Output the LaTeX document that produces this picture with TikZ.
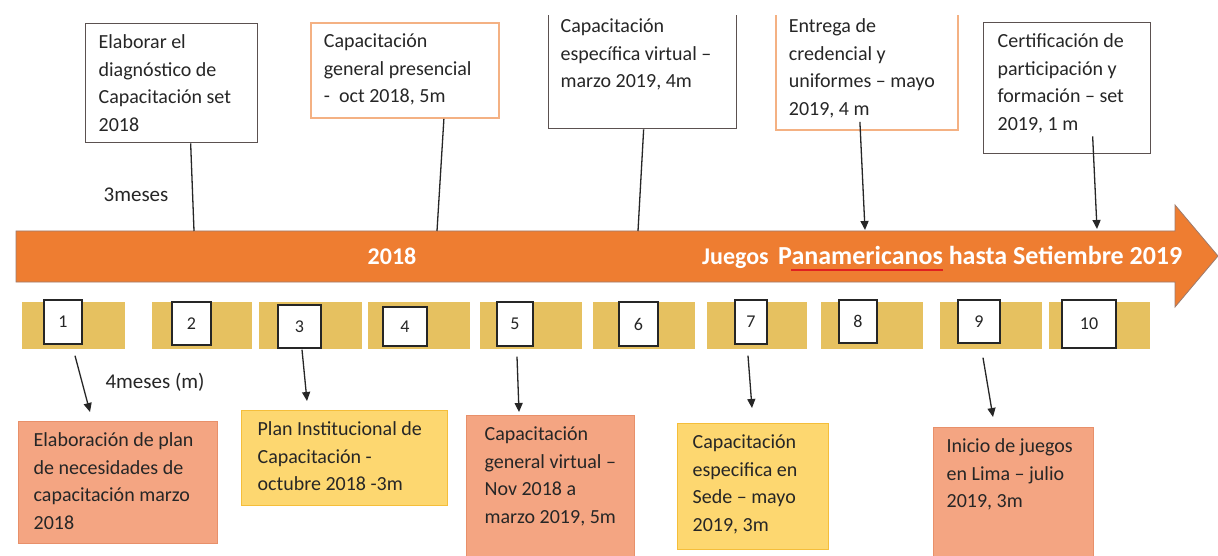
\documentclass[tikz,border=0pt]{standalone}
\usepackage{fontspec}
\setmainfont{Carlito}
\usetikzlibrary{arrows.meta}

\definecolor{ink}{HTML}{262626}
\definecolor{barorange}{HTML}{EE7D31}
\definecolor{baredge}{HTML}{9C7B6E}
\definecolor{strip}{HTML}{E6C160}
\definecolor{salmon}{HTML}{F4A582}
\definecolor{salmonedge}{HTML}{E8906A}
\definecolor{gold}{HTML}{FDD770}
\definecolor{goldedge}{HTML}{F5BE3A}
\definecolor{peach}{HTML}{F4B183}
\definecolor{darkedge}{HTML}{5B5150}
\definecolor{spell}{HTML}{E02020}

% top-aligned text block of given width and height, lines set by \\
\newcommand{\cardtext}[3]{%
  \begin{minipage}[c][#2][t]{#1}\noindent\rule{0pt}{25pt}%
  \begin{tabular}[t]{@{}l@{}}#3\end{tabular}\end{minipage}}

\tikzset{
  card/.style={anchor=north west, inner ysep=0pt, text=ink,
    font=\fontsize{20}{27.5}\selectfont, line width=1.3pt},
  darkcard/.style={card, draw=darkedge, fill=white},
  peachcard/.style={card, draw=peach, fill=white, line width=1.8pt},
  salmoncard/.style={card, draw=salmonedge, fill=salmon},
  goldcard/.style={card, draw=goldedge, fill=gold},
  numbox/.style={draw=ink, fill=white, line width=1.4pt, inner sep=0pt,
    font=\fontsize{18}{20}\selectfont, text=ink},
  seg/.style={fill=strip},
  link/.style={draw=ink, line width=1.3pt},
  pointer/.style={link, -{Triangle[length=9pt,width=8pt]}},
  note/.style={font=\fontsize{21}{25}\selectfont, text=ink, inner sep=0pt},
  bartext/.style={text=white, font=\bfseries\fontsize{24}{28}\selectfont, inner sep=0pt},
}

\begin{document}
\begin{tikzpicture}[x=1pt, y=-1pt]
\fill[white] (0,0) rectangle (1218,556);
\useasboundingbox (0,0) rectangle (1218,556);

\begin{scope}
\clip (0,16) rectangle (1218,556);

% timeline arrow
\fill[barorange, draw=baredge, line width=0.8pt]
  (16,231) -- (1175,231) -- (1175,205) -- (1218,256) -- (1175,307)
  -- (1175,282) -- (16,282) -- cycle;
\node[bartext, anchor=base] (y2018) at (392,264) {2018};
\node[bartext, anchor=base west, font=\bfseries\fontsize{24}{28}\selectfont]
  (games) at (702,264) {Juegos};
\node[bartext, anchor=base west, font=\bfseries\fontsize{26}{30}\selectfont]
  (pan) at (778,265) {Panamericanos hasta Setiembre 2019};
\draw[spell, line width=1.3pt] (791,270) -- (943,270);

\coordinate (onA) at (194,231);
\coordinate (onB) at (437,231);
\coordinate (onC) at (638,231);
\coordinate (onD) at (865,230);
\coordinate (onE) at (1097,229);

% month strips
\fill[seg] (22,302) rectangle (125,349);
\fill[seg] (152,302) rectangle (252,349);
\fill[seg] (259,302) rectangle (362,349);
\fill[seg] (368,302) rectangle (470,349);
\fill[seg] (480,302) rectangle (582,349);
\fill[seg] (593,302) rectangle (695,349);
\fill[seg] (707,302) rectangle (807,349);
\fill[seg] (821,302) rectangle (923,349);
\fill[seg] (940,302) rectangle (1042,349);
\fill[seg] (1049,302) rectangle (1150,349);

% numbered squares
\node[numbox, minimum width=38pt, minimum height=44pt] (n1) at (63,322) {1};
\node[numbox, minimum width=39pt, minimum height=43pt] (n2) at (191.5,323.5) {2};
\node[numbox, minimum width=43pt, minimum height=43pt] (n3) at (299.5,326.5) {3};
\node[numbox, minimum width=44pt, minimum height=39pt] (n4) at (405,326.5) {4};
\node[numbox, minimum width=36pt, minimum height=44pt] (n5) at (515,324) {5};
\node[numbox, minimum width=39pt, minimum height=44pt] (n6) at (638.5,324) {6};
\node[numbox, minimum width=32pt, minimum height=44pt] (n7) at (751,322) {7};
\node[numbox, minimum width=38pt, minimum height=43pt] (n8) at (858,321.5) {8};
\node[numbox, minimum width=42pt, minimum height=43pt] (n9) at (979,321.5) {9};
\node[numbox, minimum width=54pt, minimum height=48pt] (n10) at (1089,324) {10};

% upper milestones
\node[darkcard, inner xsep=13pt] (dA) at (85,23)
  {\cardtext{146pt}{119pt}{Elaborar el\\diagnóstico de\\Capacitación set\\2018}};
\node[peachcard, inner xsep=13pt] (dB) at (310,22)
  {\cardtext{162pt}{95pt}{Capacitación\\general presencial\\-\ \ oct 2018, 5m}};
\node[darkcard, inner xsep=12pt] (dC) at (548,7)
  {\cardtext{164pt}{121pt}{Capacitación\\específica virtual –\\marzo 2019, 4m}};
\node[peachcard, inner xsep=13pt] (dD) at (775,7)
  {\cardtext{156pt}{122pt}{Entrega de\\credencial y\\uniformes – mayo\\2019, 4 m}};
\node[darkcard, inner xsep=14pt] (dE) at (983,22)
  {\cardtext{139pt}{131pt}{Certificación de\\participación y\\formación – set\\2019, 1 m}};

\node[note] (m3) at (136,195) {3meses};

\draw[link] ([xshift=19pt]dA.south) -- (onA);
\draw[link] ([xshift=39pt]dB.south) -- (onB);
\draw[link] ([xshift=1pt]dC.south) -- (onC);
\draw[pointer] ([xshift=-7pt,yshift=9pt]dD.south) -- (onD);
\draw[pointer] ([xshift=25.5pt,yshift=18pt]dE.south) -- (onE);

% lower milestones
\node[salmoncard, inner xsep=15pt] (b1) at (18,421)
  {\cardtext{169pt}{122pt}{Elaboración de plan\\de necesidades de\\capacitación marzo\\2018}};
\node[goldcard, inner xsep=16pt] (b3) at (241,410)
  {\cardtext{174pt}{95pt}{Plan Institucional de\\Capacitación -\\octubre 2018 -3m}};
\node[salmoncard, inner xsep=18pt] (b5) at (466,415)
  {\cardtext{132pt}{150pt}{Capacitación\\general virtual –\\Nov 2018 a\\marzo 2019, 5m}};
\node[goldcard, inner xsep=15pt] (b7) at (677,423)
  {\cardtext{121pt}{126pt}{Capacitación\\especifica en\\Sede – mayo\\2019, 3m}};
\node[salmoncard, inner xsep=13pt] (b9) at (933,427)
  {\cardtext{134pt}{140pt}{Inicio de juegos\\en Lima – julio\\2019, 3m}};

\node[note] (m4) at (155,382) {4meses (m)};

\coordinate (to1) at (90,412);
\coordinate (to3) at (307,401);
\coordinate (to5) at (519,412);
\coordinate (to7) at (752,408);
\coordinate (to9) at (993,417);

\draw[pointer] ([xshift=12pt,yshift=-11pt]n1.south) -- (to1);
\draw[pointer] ([xshift=2.5pt,yshift=-1pt]n3.south) -- (to3);
\draw[pointer] ([xshift=2pt,yshift=-10pt]n5.south) -- (to5);
\draw[pointer] ([xshift=-3pt,yshift=-11pt]n7.south) -- (to7);
\draw[pointer] ([xshift=4pt,yshift=-14pt]n9.south) -- (to9);
\end{scope}
\end{tikzpicture}
\end{document}
